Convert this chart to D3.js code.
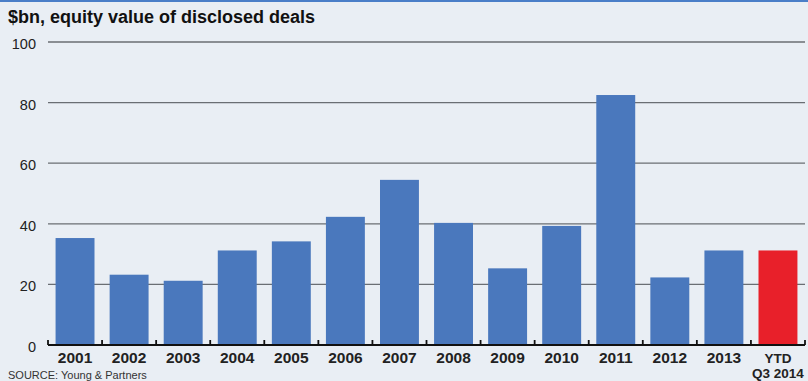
<!DOCTYPE html>
<html><head><meta charset="utf-8">
<script src="https://cdn.jsdelivr.net/npm/d3@7"></script>
<style>
html,body{margin:0;padding:0;background:#e9eef4;}
svg{display:block;}
</style></head>
<body>
<svg id="chart" width="808" height="381"></svg>
<script>
const categories = ["2001","2002","2003","2004","2005","2006","2007","2008","2009","2010","2011","2012","2013","YTD\nQ3 2014"];
const values = [35.3, 23.2, 21.2, 31.2, 34.2, 42.3, 54.5, 40.3, 25.3, 39.3, 82.5, 22.3, 31.2, 31.2];
const highlight = [false,false,false,false,false,false,false,false,false,false,false,false,false,true];
const yTicks = [0, 20, 40, 60, 80, 100];
const title = "$bn, equity value of disclosed deals";
const source = "SOURCE: Young & Partners";

const svg = d3.select("#chart");
const W = 808, H = 381;
const mLeft = 48, mRight = 805, mTop = 42, mBottom = 345;
const font = "Liberation Sans, Arial, sans-serif";

svg.append("rect").attr("width", W).attr("height", H).attr("fill", "#e9eef4");
svg.append("rect").attr("x",0).attr("y",0).attr("width",W).attr("height",2).attr("fill","#4a7ec8");

const x = d3.scaleBand().domain(categories).range([mLeft, mRight]).paddingInner(0.28).paddingOuter(0.14);
const y = d3.scaleLinear().domain([0, 100]).range([mBottom, mTop]);

svg.append("text").attr("x", 8).attr("y", 23).text(title)
  .attr("font-family", font).attr("font-weight", "bold")
  .attr("font-size", 18).attr("fill", "#111");

// gridlines
svg.append("g").selectAll("line").data(yTicks.filter(d => d > 0)).join("line")
  .attr("x1", mLeft).attr("x2", mRight).attr("y1", d => y(d)).attr("y2", d => y(d))
  .attr("stroke", "#6a6e73").attr("stroke-width", 1.3);

// y labels
svg.append("g").selectAll("text").data(yTicks).join("text")
  .attr("x", 36).attr("y", d => y(d) + 7).attr("text-anchor", "end")
  .attr("font-family", font).attr("font-size", 14.5)
  .attr("fill", "#222").text(d => d);

// bars
svg.append("g").selectAll("rect").data(categories).join("rect")
  .attr("x", d => x(d)).attr("width", x.bandwidth())
  .attr("y", (d, i) => y(values[i])).attr("height", (d, i) => y(0) - y(values[i]))
  .attr("fill", (d, i) => highlight[i] ? "#e8202a" : "#4a78bd");

// baseline
svg.append("line").attr("x1", mLeft).attr("x2", mRight).attr("y1", mBottom).attr("y2", mBottom)
  .attr("stroke", "#111").attr("stroke-width", 2);
// ticks between bands
const tickPos = d3.range(categories.length + 1).map(i => mLeft + i * (mRight - mLeft) / categories.length);
svg.append("g").selectAll("line").data(tickPos).join("line")
  .attr("x1", d => d).attr("x2", d => d).attr("y1", mBottom - 5).attr("y2", mBottom)
  .attr("stroke", "#111").attr("stroke-width", 1.8);

// x labels (each line is its own text)
const labelLines = [];
categories.forEach(c => {
  const parts = c.split("\n");
  parts.forEach((l, i) => labelLines.push({c, l, i, multi: parts.length > 1}));
});
svg.append("g").selectAll("text").data(labelLines).join("text")
  .attr("x", d => x(d.c) + x.bandwidth() / 2).attr("y", d => 363 + d.i * 15)
  .attr("text-anchor", "middle")
  .attr("font-family", font).attr("font-weight", "bold")
  .attr("font-size", d => d.multi ? 13.5 : 15.5).attr("fill", "#222").text(d => d.l);

svg.append("text").attr("x", 8).attr("y", 379).text(source)
  .attr("font-family", font).attr("font-size", 11).attr("fill", "#333");
</script>
</body></html>
